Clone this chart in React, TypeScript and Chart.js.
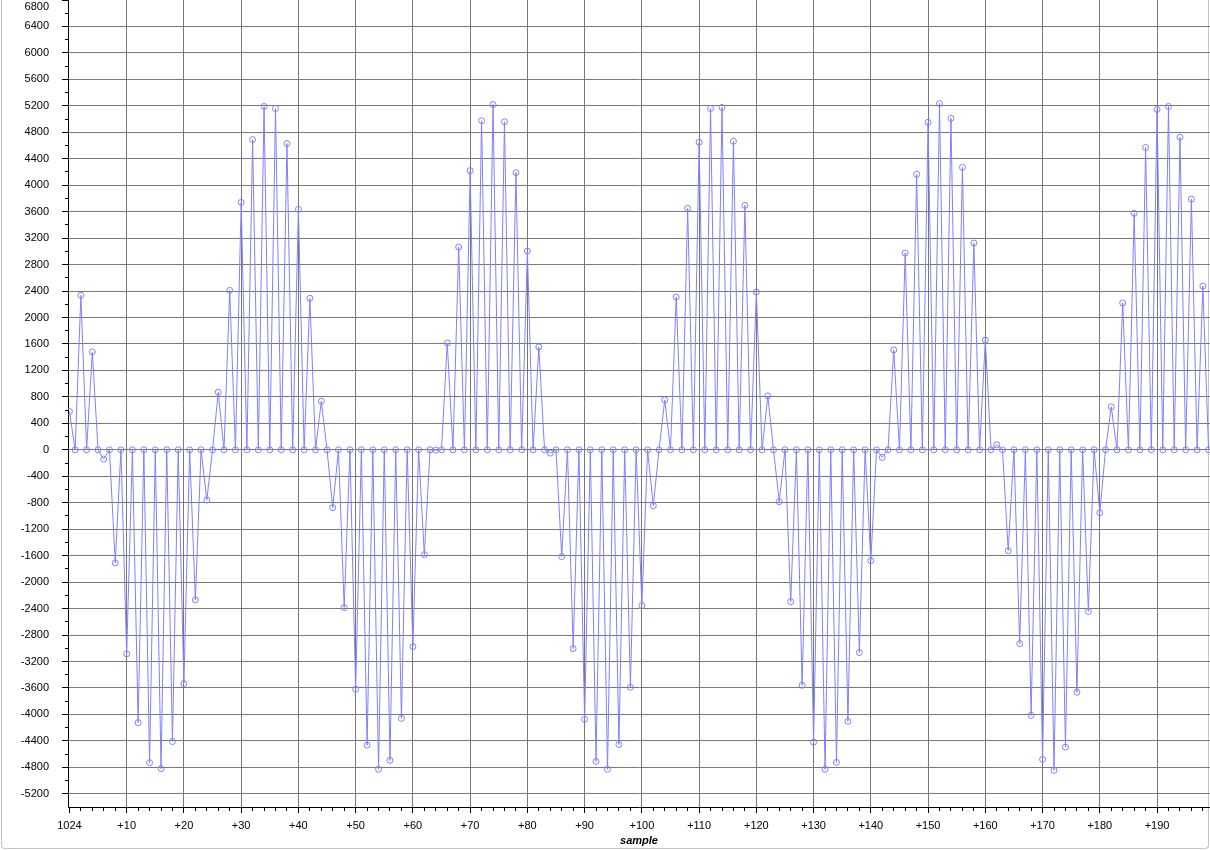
import React, { useEffect, useRef } from 'react';
import { Chart, registerables } from 'chart.js';

Chart.register(...registerables);

// Sample values, index 0 = sample 1024 (offset +0) ... +199
const sampleValues: number[] = [
  580, 0, 2335, 0, 1480, 0, -140, 0, -1710, 0,
  -3085, 0, -4125, 0, -4730, 0, -4820, 0, -4410, 0,
  -3535, 0, -2270, 0, -760, 0, 870, 0, 2410, 0,
  3740, 0, 4690, 0, 5190, 0, 5160, 0, 4630, 0,
  3635, 0, 2290, 0, 735, 0, -875, 0, -2385, 0,
  -3620, 0, -4465, 0, -4830, 0, -4695, 0, -4060, 0,
  -2975, 0, -1585, 0, -5, 0, 1615, 0, 3065, 0,
  4220, 0, 4975, 0, 5220, 0, 4960, 0, 4190, 0,
  3005, 0, 1555, 0, -50, 0, -1615, 0, -3005, 0,
  -4075, 0, -4710, 0, -4830, 0, -4455, 0, -3590, 0,
  -2355, 0, -845, 0, 755, 0, 2310, 0, 3650, 0,
  4650, 0, 5160, 0, 5175, 0, 4665, 0, 3695, 0,
  2385, 0, 815, 0, -785, 0, -2295, 0, -3560, 0,
  -4420, 0, -4830, 0, -4725, 0, -4105, 0, -3065, 0,
  -1675, 0, -115, 0, 1510, 0, 2975, 0, 4165, 0,
  4950, 0, 5235, 0, 5010, 0, 4270, 0, 3125, 0,
  1660, 0, 75, 0, -1525, 0, -2930, 0, -4015, 0,
  -4680, 0, -4845, 0, -4495, 0, -3665, 0, -2445, 0,
  -950, 0, 650, 0, 2220, 0, 3575, 0, 4570, 0,
  5145, 0, 5190, 0, 4725, 0, 3790, 0, 2475, 0,
];

const xMajorTicks = [0, 10, 20, 30, 40, 50, 60, 70, 80, 90, 100, 110, 120, 130, 140, 150, 160, 170, 180, 190];
const xTickLabels = ['1024', '+10', '+20', '+30', '+40', '+50', '+60', '+70', '+80', '+90', '+100', '+110', '+120', '+130', '+140', '+150', '+160', '+170', '+180', '+190'];
const xMinorTicks = [
  2, 4, 6, 8, 12, 14, 16, 18, 22, 24, 26, 28, 32, 34, 36, 38, 42, 44, 46, 48,
  52, 54, 56, 58, 62, 64, 66, 68, 72, 74, 76, 78, 82, 84, 86, 88, 92, 94, 96, 98,
  102, 104, 106, 108, 112, 114, 116, 118, 122, 124, 126, 128, 132, 134, 136, 138,
  142, 144, 146, 148, 152, 154, 156, 158, 162, 164, 166, 168, 172, 174, 176, 178,
  182, 184, 186, 188, 192, 194, 196, 198,
];
const yMajorTicks = [-5200, -4800, -4400, -4000, -3600, -3200, -2800, -2400, -2000, -1600, -1200, -800, -400, 0, 400, 800, 1200, 1600, 2000, 2400, 2800, 3200, 3600, 4000, 4400, 4800, 5200, 5600, 6000, 6400, 6800];
const yTickLabels = ['-5200', '-4800', '-4400', '-4000', '-3600', '-3200', '-2800', '-2400', '-2000', '-1600', '-1200', '-800', '-400', '0', '400', '800', '1200', '1600', '2000', '2400', '2800', '3200', '3600', '4000', '4400', '4800', '5200', '5600', '6000', '6400', '6800'];
const yMinorTicks = [-5000, -4600, -4200, -3800, -3400, -3000, -2600, -2200, -1800, -1400, -1000, -600, -200, 200, 600, 1000, 1400, 1800, 2200, 2600, 3000, 3400, 3800, 4200, 4600, 5000, 5400, 5800, 6200, 6600];

const X_MIN = -0.25;
const X_MAX = 199.25;
const Y_MIN = -5400;
const Y_MAX = 6800;

const FONT_FAMILY = "'Liberation Sans', Arial, sans-serif";
const GRID = '#787878';
const LINE = '#8080ff';

const zeroPad = (s: any) => {
  s.paddingTop = 0;
  s.paddingBottom = 0;
  s.paddingLeft = 0;
  s.paddingRight = 0;
};

export default function App() {
  const canvasRef = useRef<HTMLCanvasElement | null>(null);

  useEffect(() => {
    const canvas = canvasRef.current;
    if (!canvas) return;
    const lastY = yMajorTicks[yMajorTicks.length - 1];
    const chart = new Chart(canvas, {
      type: 'line',
      data: {
        datasets: [
          {
            data: sampleValues.map((v, i) => ({ x: i, y: v })),
            borderColor: LINE,
            borderWidth: 1,
            tension: 0,
            fill: false,
            pointRadius: 3,
            pointBorderWidth: 1,
            pointBorderColor: LINE,
            pointBackgroundColor: 'rgba(0,0,0,0)',
            pointHoverRadius: 3,
          },
        ],
      },
      options: {
        responsive: false,
        animation: false,
        devicePixelRatio: 1,
        layout: { autoPadding: false, padding: { top: -1.5, left: 0, right: 0, bottom: 0 } },
        plugins: { legend: { display: false }, tooltip: { enabled: false } },
        events: [],
        scales: {
          x: {
            type: 'linear',
            position: 'bottom',
            weight: 1,
            min: X_MIN,
            max: X_MAX,
            afterBuildTicks: (s: any) => {
              s.ticks = xMajorTicks.map((v) => ({ value: v }));
            },
            afterFit: (s: any) => {
              s.height = 43;
              zeroPad(s);
            },
            ticks: {
              autoSkip: false,
              maxRotation: 0,
              padding: 6,
              color: '#000',
              font: { family: FONT_FAMILY, size: 11 },
              callback: (_v: any, i: number) => xTickLabels[i],
            },
            grid: {
              color: (ctx: any) => (ctx.tick && ctx.tick.value === 0 ? 'rgba(0,0,0,0)' : GRID),
              lineWidth: 1,
              tickLength: 6,
              tickColor: '#000',
            },
            border: { display: true, color: '#000', width: 1 },
            title: {
              display: true,
              text: 'sample',
              color: '#000',
              font: { family: FONT_FAMILY, size: 11, weight: 'bold', style: 'italic' },
              padding: { top: 0, bottom: 2 },
            },
          },
          xMinor: {
            type: 'linear',
            position: 'bottom',
            weight: 0,
            min: X_MIN,
            max: X_MAX,
            afterBuildTicks: (s: any) => {
              s.ticks = xMinorTicks.map((v) => ({ value: v }));
            },
            afterFit: (s: any) => {
              s.height = 0;
              zeroPad(s);
            },
            ticks: { display: false },
            grid: { drawOnChartArea: false, tickLength: 4, tickColor: '#000' },
            border: { display: false },
          },
          y: {
            type: 'linear',
            position: 'left',
            weight: 1,
            min: Y_MIN,
            max: Y_MAX,
            afterBuildTicks: (s: any) => {
              s.ticks = yMajorTicks.map((v) => ({ value: v }));
            },
            afterFit: (s: any) => {
              s.width = 68;
              zeroPad(s);
            },
            ticks: {
              autoSkip: false,
              padding: 13,
              color: '#000',
              font: { family: FONT_FAMILY, size: 11 },
              callback: (v: any, i: number) => (v === lastY ? ['', yTickLabels[i]] : yTickLabels[i]),
            },
            grid: {
              color: (ctx: any) => (ctx.tick && ctx.tick.value === lastY ? 'rgba(0,0,0,0)' : GRID),
              lineWidth: 1,
              tickLength: 6,
              tickColor: '#000',
            },
            border: { display: true, color: '#000', width: 1 },
          },
          yMinor: {
            type: 'linear',
            position: 'left',
            weight: 0,
            min: Y_MIN,
            max: Y_MAX,
            afterBuildTicks: (s: any) => {
              s.ticks = yMinorTicks.map((v) => ({ value: v }));
            },
            afterFit: (s: any) => {
              s.width = 0;
              zeroPad(s);
            },
            ticks: { display: false },
            grid: { drawOnChartArea: false, tickLength: 3, tickColor: '#000' },
            border: { display: false },
          },
        },
      } as any,
    });
    return () => chart.destroy();
  }, []);

  return (
    <div style={{ position: 'absolute', left: 0, top: 0, width: 1210, height: 850, background: '#fff' }}>
      <div
        style={{
          position: 'absolute',
          left: 1,
          top: 0,
          width: 1208,
          height: 849,
          boxSizing: 'border-box',
          borderLeft: '1px solid #c4c4cc',
          borderRight: '1px solid #c4c4cc',
          borderBottom: '1px solid #c4c4cc',
          borderRadius: '0 0 4px 4px',
        }}
      />
      <canvas ref={canvasRef} width={1210} height={850} style={{ position: 'absolute', left: 0, top: 0 }} />
    </div>
  );
}
